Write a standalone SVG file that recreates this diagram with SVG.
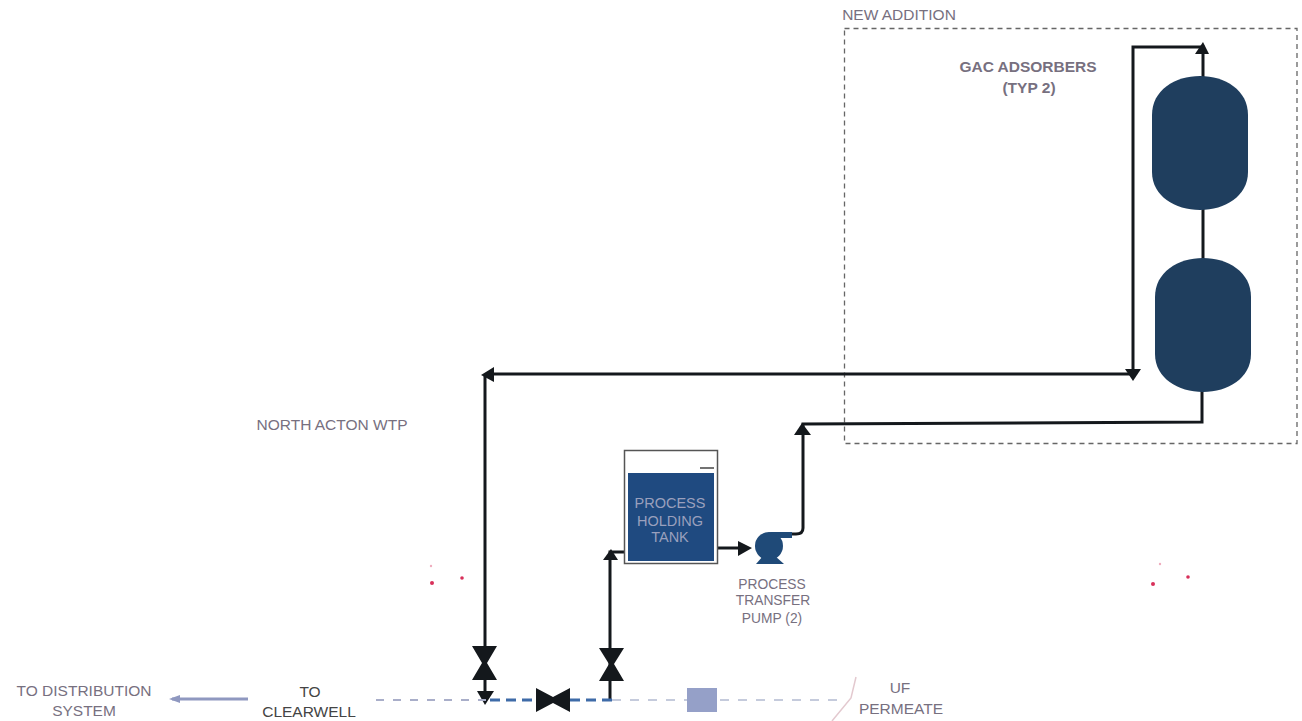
<svg xmlns="http://www.w3.org/2000/svg" width="1302" height="721" viewBox="0 0 1302 721">
<style>
text{font-family:"Liberation Sans",Arial,sans-serif;font-size:15.500px;fill:#77707f;text-anchor:middle}
.p{fill:none;stroke:#14181c;stroke-width:3}
.h{fill:#14181c}
.v{fill:#1f3e5e}
.b{fill:none;stroke:#666;stroke-width:1.300;stroke-dasharray:5 4}
.d{fill:#d8305a}
.s{font-size:13.800px}
.t{font-size:14.500px;fill:#9aa0bd}
.k{fill:#444}
</style>
<rect width="1302" height="721" fill="#fff"/>
<g id="new-addition"><rect class="b" x="844.500" y="28.500" width="452.500" height="415"/><text x="899" y="20">NEW ADDITION</text></g>
<g id="connectors">
<path class="p" d="M1133 375V47H1203V77"/>
<path class="p" d="M1203 209V259"/>
<path class="p" d="M1202 391V422L803 424V528Q803 534 796 534H775"/>
<path class="p" d="M1133 374H487"/>
<path class="p" d="M485 375V700"/>
<path class="p" d="M610 700V552H628"/>
<path class="p" d="M714 548H742"/>
<path class="h" d="M1195 54L1203 42L1209 54Z"/>
<path class="h" d="M1125 369H1141L1133 381Z"/>
<path class="h" d="M481 375L494 367V382Z"/>
<path class="h" d="M477 691H494L485 705Z"/>
<path class="h" d="M794 435L802 423L811 435Z"/>
<path class="h" d="M603 560L611 549L618 560Z"/>
<path fill="none" stroke="#a9aec9" stroke-width="2" stroke-dasharray="8 9" d="M376 700H490"/>
<path fill="none" stroke="#3e6ba8" stroke-width="3" stroke-dasharray="10 6" d="M490 700H612"/>
<path fill="none" stroke="#c5cbdc" stroke-width="2" stroke-dasharray="9 9" d="M612 700H846"/>
<path fill="none" stroke="#8f98c0" stroke-width="3" d="M172 699H248"/>
<path fill="#8f98c0" d="M169 699L180 695V703Z"/>
<path fill="none" stroke="#e3c9cf" stroke-width="1.500" d="M856 677L851 698L832 721"/>
</g>
<g id="valve-1"><path class="h" d="M472 646H497L487 663L497 680H472L482 663Z"/></g>
<g id="valve-2"><path class="h" d="M599 648H624L614 664L624 681H599L609 664Z"/></g>
<g id="valve-3"><path class="h" d="M536 688L553 697L570 688V712L553 703L536 712Z"/></g>
<g id="strainer"><rect x="687" y="688" width="30" height="24" fill="#95a0c8"/></g>
<g id="gac-1"><path class="v" d="M1152 115C1152 90 1175 76 1200 76C1225 76 1248 90 1248 115V172C1248 196 1225 210 1200 210C1175 210 1152 196 1152 172Z"/></g>
<g id="gac-2"><path class="v" d="M1155 297C1155 272 1178 258 1203 258C1228 258 1251 272 1251 297V354C1251 378 1228 392 1203 392C1178 392 1155 378 1155 354Z"/></g>
<text x="1028" y="72" font-weight="bold">GAC ADSORBERS</text>
<text x="1029" y="93" font-weight="bold">(TYP 2)</text>
<g id="tank">
<rect x="624.500" y="450.500" width="93" height="113" fill="#fff" stroke="#555" stroke-width="1.500"/>
<rect x="628" y="473" width="86" height="88" fill="#1f4a80"/>
<path fill="none" stroke="#444" stroke-width="1.500" d="M700 468H714"/>
<text class="t" x="670" y="508">PROCESS</text><text class="t" x="670" y="526">HOLDING</text><text class="t" x="670" y="542">TANK</text>
</g>
<g id="pump">
<circle cx="769" cy="546" r="14" fill="#1f4a78"/>
<path fill="#1f4a78" d="M769 532H792V538H780ZM756 564L763 556H775L784 564Z"/>
<path fill="#14181c" d="M738 541L752 548L738 556Z"/>
</g>
<text class="s" x="772" y="589">PROCESS</text>
<text class="s" x="773" y="605">TRANSFER</text>
<text class="s" x="772" y="623">PUMP (2)</text>
<text x="332" y="430">NORTH ACTON WTP</text>
<text x="84" y="696">TO DISTRIBUTION</text>
<text x="84" y="716">SYSTEM</text>
<text class="k" x="310" y="697">TO</text>
<text class="k" x="309" y="717">CLEARWELL</text>
<text x="900" y="693" fill="#8a6f80">UF</text>
<text x="901" y="714">PERMEATE</text>
<circle class="d" cx="431" cy="566" r="1.200" opacity="0.400"/><circle class="d" cx="432" cy="583" r="2"/><circle class="d" cx="462" cy="578" r="1.800"/>
<circle class="d" cx="1160" cy="564" r="1.200" opacity="0.400"/><circle class="d" cx="1153" cy="584" r="2"/><circle class="d" cx="1188" cy="577" r="1.800"/>
</svg>
